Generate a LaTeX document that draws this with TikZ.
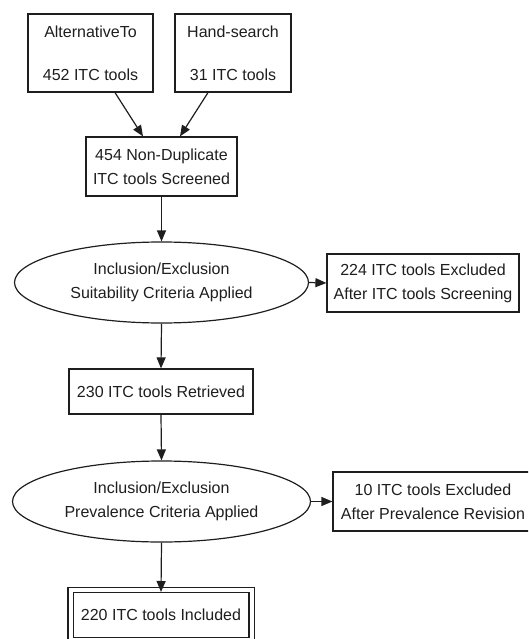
\documentclass[tikz,border=0pt]{standalone}
\usepackage{fontspec}
\setmainfont{Liberation Sans}
\usetikzlibrary{shapes.geometric,arrows.meta}
\definecolor{ink}{HTML}{1E1E1E}
\tikzset{
  box/.style={draw=ink, line width=1.2pt, rectangle, inner sep=0pt, align=center, text=ink,
    font=\fontsize{16}{24}\selectfont},
  oval/.style={draw=ink, line width=1.2pt, ellipse, inner sep=0pt, align=center, text=ink,
    font=\fontsize{16}{24}\selectfont},
  arr/.style={draw=ink, line width=1.2pt, -{Triangle[length=11pt,width=9pt]}},
}
\begin{document}
\begin{tikzpicture}[x=1pt,y=-1pt]
\useasboundingbox (0,0) rectangle (528,639);
\clip (0,0) rectangle (528,639);
\node[box, minimum width=125pt, minimum height=78pt] (alt) at (90.5,53) {AlternativeTo\\[19pt]452 ITC tools};
\node[box, minimum width=116pt, minimum height=78pt] (hand) at (233,53) {Hand-search\\[19pt]31 ITC tools};
\node[box, minimum width=151pt, minimum height=59pt] (nodup) at (161.5,166.5) {454 Non-Duplicate\\ITC tools Screened};
\node[oval, minimum width=294pt, minimum height=81pt] (ell1) at (161.5,282.5) {Inclusion/Exclusion\\Suitability Criteria Applied};
\node[box, minimum width=192pt, minimum height=58pt] (exc1) at (423,283) {224 ITC tools Excluded\\After ITC tools Screening};
\node[box, minimum width=184pt, minimum height=45pt] (ret) at (161,391.5) {230 ITC tools Retrieved};
\node[oval, minimum width=298pt, minimum height=81pt] (ell2) at (161.5,501.5) {Inclusion/Exclusion\\Prevalence Criteria Applied};
\node[box, minimum width=200pt, minimum height=59pt] (exc2) at (433,501.5) {10 ITC tools Excluded\\After Prevalence Revision};
\node[box, double, double distance=4pt, minimum width=181pt, minimum height=50pt] (inc) at (161,615) {220 ITC tools Included};

\draw[arr] ([xshift=24.5pt]alt.south) -- ([xshift=-18.5pt]nodup.north);
\draw[arr] ([xshift=-25pt]hand.south) -- ([xshift=18.5pt]nodup.north);
\draw[arr] (nodup.south) -- (ell1.north);
\draw[arr] (ell1.east) -- (exc1.west);
\draw[arr] (ell1.south) -- (ret.north);
\draw[arr] (ret.south) -- (ell2.north);
\draw[arr] (ell2.east) -- (exc2.west);
\draw[arr] (ell2.south) -- ([yshift=-2.6pt]inc.north);
\end{tikzpicture}
\end{document}
